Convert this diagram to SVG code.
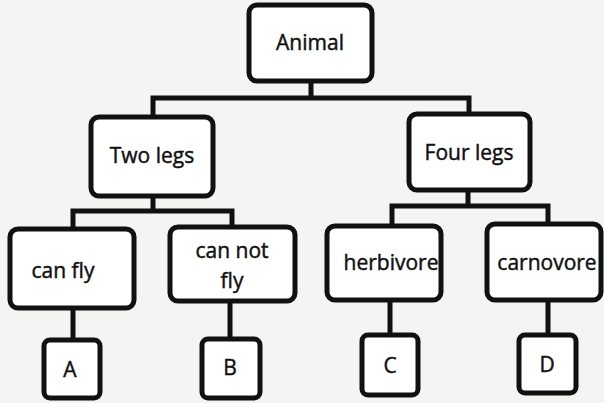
<svg xmlns="http://www.w3.org/2000/svg" width="604" height="403" viewBox="0 0 604 403">
<style>
.box{fill:#ffffff;stroke:#111111;stroke-width:5;}
.ln{fill:none;stroke:#111111;stroke-width:5;stroke-linejoin:miter;}
.t{font-family:"Open Sans","Noto Sans",sans-serif;font-size:21px;fill:#111111;stroke:#111111;stroke-width:0.45;text-anchor:middle;}
</style>
<rect x="0" y="0" width="604" height="403" fill="#f4f4f3"/>
<g id="connectors">
<path class="ln" d="M311,81 V98 M153,117 V98 H469 V114"/>
<path class="ln" d="M153,196 V211 M73,229 V211 H232 V227"/>
<path class="ln" d="M468,190 V206 M392,226 V206 H548 V224"/>
<path class="ln" d="M73,308 V340 M230,301 V339 M390,300 V335 M548,300 V335"/>
</g>
<g id="animal"><rect class="box" x="249" y="5" width="123" height="76" rx="8"/><text class="t" x="310" y="50">Animal</text></g>
<g id="two-legs"><rect class="box" x="91" y="117" width="122" height="79" rx="8"/><text class="t" x="152" y="163">Two legs</text></g>
<g id="four-legs"><rect class="box" x="409" y="114" width="121" height="76" rx="8"/><text class="t" x="469" y="160">Four legs</text></g>
<g id="can-fly"><rect class="box" x="10" y="229" width="124" height="79" rx="8"/><text class="t" x="63" y="278">can fly</text></g>
<g id="can-not-fly"><rect class="box" x="170" y="227" width="125" height="74" rx="8"/><text class="t" x="232" y="258">can not</text><text class="t" x="232" y="288">fly</text></g>
<g id="herbivore"><rect class="box" x="327" y="226" width="114" height="74" rx="8"/><text class="t" x="391" y="270">herbivore</text></g>
<g id="carnovore"><rect class="box" x="487" y="224" width="114" height="76" rx="8"/><text class="t" x="547" y="270">carnovore</text></g>
<g id="a"><rect class="box" x="44" y="340" width="56" height="58" rx="6"/><text class="t" x="70" y="377">A</text></g>
<g id="b"><rect class="box" x="202" y="339" width="58" height="59" rx="6"/><text class="t" x="230" y="375">B</text></g>
<g id="c"><rect class="box" x="362" y="335" width="56" height="60" rx="6"/><text class="t" x="390" y="373">C</text></g>
<g id="d"><rect class="box" x="519" y="335" width="57" height="58" rx="6"/><text class="t" x="547" y="372">D</text></g>
</svg>
